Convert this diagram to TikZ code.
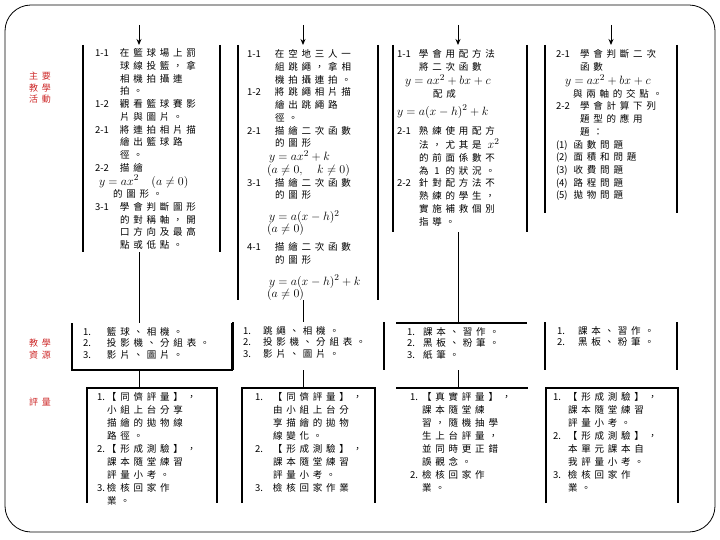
\documentclass[tikz,border=0pt]{standalone}
\usepackage{fontspec}
\usepackage{array}
\newfontfamily\cjk[LetterSpace=40]{Noto Sans CJK TC}
\newfontfamily\numf{Noto Sans CJK TC}
\usetikzlibrary{arrows.meta}
\definecolor{lblred}{RGB}{205,40,40}
\newcommand\blk[2]{\begin{tabular}{@{}>{\numf}p{#1}@{}l@{}}#2\end{tabular}}
\newcommand\fm[2]{\multicolumn{2}{@{}l@{}}{\hspace*{#1}#2}}
\newcommand\mth[1]{{\fontsize{12.5}{12.7}\selectfont$#1$}}
\tikzset{
  frame/.style={inner sep=0pt, outer sep=0pt},
  side/.style={line width=1.1pt, black},
  conn/.style={line width=0.9pt, black},
  txt/.style={anchor=north west, inner sep=0pt, outer sep=0pt, font=\cjk\fontsize{9.5}{12.7}\selectfont},
  rtxt/.style={anchor=north west, inner sep=0pt, outer sep=0pt, font=\cjk\fontsize{9.5}{11.5}\selectfont},
  etxt/.style={anchor=north west, inner sep=0pt, outer sep=0pt, font=\cjk\fontsize{9.5}{13}\selectfont},
  lbl/.style={align=center, inner sep=0pt, text=lblred, font=\cjk\fontsize{9}{11.5}\selectfont}
}
\begin{document}
\begin{tikzpicture}[x=1pt, y=-1pt]
\useasboundingbox (0,0) rectangle (720,540);
\draw[line width=0.8pt, rounded corners=26pt] (5,5) rectangle (715,532);

% labels
\node[lbl] (l1) at (40,88) {主要\\教學\\活動};
\node[lbl] (l2) at (40,349) {教學\\資源};
\node[lbl] (l3) at (40,402) {評量};

% frames
\node[frame, minimum width=137pt, minimum height=207pt] (a1) at (151.5,148.5) {};
\node[frame, minimum width=140pt, minimum height=255pt] (a2) at (308,172.5) {};
\node[frame, minimum width=134pt, minimum height=187pt] (a3) at (460,138.5) {};
\node[frame, minimum width=132pt, minimum height=168pt] (a4) at (611,129) {};
\node[frame, minimum width=160pt, minimum height=47pt] (r1) at (152,346.5) {};
\node[frame, minimum width=151pt, minimum height=48pt] (r2) at (308.5,346) {};
\node[frame, minimum width=131pt, minimum height=47pt] (r3) at (461.5,346.5) {};
\node[frame, minimum width=132pt, minimum height=48pt] (r4) at (611,346) {};
\node[frame, minimum width=130pt, minimum height=115pt] (e1) at (152,445.5) {};
\node[frame, minimum width=133pt, minimum height=115pt] (e2) at (308.5,445.5) {};
\node[frame, minimum width=132pt, minimum height=115pt] (e3) at (462,445.5) {};
\node[frame, minimum width=132pt, minimum height=115pt] (e4) at (612,445.5) {};

% visible sides
\foreach \n in {a1,a2,a3,a4,r2,r4}{
  \draw[side] (\n.north west) -- (\n.south west) (\n.north east) -- (\n.south east);
}
\draw[side] (r1.north west) -- (r1.south west) -- (r1.south east) -- (r1.north east);
\draw[side] (r3.north west) -- (r3.north east);
\foreach \n in {e1,e2,e4}{
  \draw[side] (\n.south west) -- (\n.north west) -- (\n.north east) -- (\n.south east);
}
\draw[side] (e3.north west) -- (e3.north east);

% connectors
\coordinate (t1) at (139,25);
\coordinate (t2) at (303,25);
\coordinate (t3) at (458,25);
\coordinate (t4) at (611,25);
\foreach \t/\a in {t1/a1,t2/a2,t3/a3,t4/a4}{
  \draw[conn, -{Stealth[length=6pt,width=5pt]}] (\t) -- (\t |- \a.north);
}
\foreach \t/\a/\r/\e in {t1/a1/r1/e1,t2/a2/r2/e2,t3/a3/r3/e3}{
  \draw[conn] (\t |- \a.south) -- (\t |- \r.north);
  \draw[conn] (\t |- \r.south) -- (\t |- \e.north);
}

% activity texts
\node[txt] (ta1) at (95,48) {\blk{25pt}{
1-1 & 在籃球場上罰\\
 & 球線投籃，拿\\
 & 相機拍攝連\\
 & 拍。\\
1-2 & 觀看籃球賽影\\
 & 片與圖片。\\
2-1 & 將連拍相片描\\
 & 繪出籃球路\\
 & 徑。\\
2-2 & 描繪\\
\fm{4pt}{\mth{y=ax^2\quad(a\neq0)}}\\
\fm{18pt}{的圖形。}\\
3-1 & 學會判斷圖形\\
 & 的對稱軸，開\\
 & 口方向及最高\\
 & 點或低點。}};

\node[txt] (ta2) at (247,49) {\blk{28pt}{
1-1 & 在空地三人一\\
 & 組跳繩，拿相\\
 & 機拍攝連拍。\\
1-2 & 將跳繩相片描\\
 & 繪出跳繩路\\
 & 徑。\\
2-1 & 描繪二次函數\\
 & 的圖形\\
\fm{22pt}{\mth{y=ax^2+k}}\\
\fm{20pt}{\mth{(a\neq0,\quad k\neq0)}}\\
3-1 & 描繪二次函數\\
 & 的圖形\\[8pt]
\fm{22pt}{\mth{y=a(x-h)^2}}\\[-1pt]
\fm{20pt}{\mth{(a\neq0)}}\\[5pt]
4-1 & 描繪二次函數\\
 & 的圖形\\[8pt]
\fm{22pt}{\mth{y=a(x-h)^2+k}}\\
\fm{20pt}{\mth{(a\neq0)}}}};

\node[txt] (ta3) at (397,49) {\blk{22pt}{
1-1 & 學會用配方法\\
 & 將二次函數\\
\fm{8pt}{\mth{y=ax^2+bx+c}}\\
\fm{36pt}{配成}\\[4pt]
\fm{0pt}{\mth{y=a(x-h)^2+k}}\\[7pt]
2-1 & 熟練使用配方\\
 & 法，尤其是 \mth{x^2}\\
 & 的前面係數不\\
 & 為 {\numf 1} 的狀況。\\
2-2 & 針對配方法不\\
 & 熟練的學生，\\
 & 實施補救個別\\
 & 指導。}};

\node[txt] (ta4) at (556,49) {\blk{24pt}{
2-1 & 學會判斷二次\\
 & 函數\\
\fm{9pt}{\mth{y=ax^2+bx+c}}\\
\fm{17pt}{與兩軸的交點。}\\
2-2 & 學會計算下列\\
 & 題型的應用\\
 & 題：\\
\fm{0pt}{{\numf (1)} 函數問題}\\
\fm{0pt}{{\numf (2)} 面積和問題}\\
\fm{0pt}{{\numf (3)} 收費問題}\\
\fm{0pt}{{\numf (4)} 路程問題}\\
\fm{0pt}{{\numf (5)} 拋物問題}}};

% resource texts
\node[rtxt] (tr1) at (83,327) {\blk{24pt}{
1. & 籃球、相機。\\
2. & 投影機、分組表。\\
3. & 影片、圖片。}};
\node[rtxt] (tr2) at (243,326) {\blk{20pt}{
1. & 跳繩、相機。\\
2. & 投影機、分組表。\\
3. & 影片、圖片。}};
\node[rtxt] (tr3) at (407,327) {\blk{16pt}{
1. & 課本、習作。\\
2. & 黑板、粉筆。\\
3. & 紙筆。}};
\node[rtxt] (tr4) at (557,326) {\blk{21pt}{
1. & 課本、習作。\\
2. & 黑板、粉筆。}};

% evaluation texts
\node[etxt] (te1) at (97,391) {\blk{10pt}{
1. & 【同儕評量】，\\
 & 小組上台分享\\
 & 描繪的拋物線\\
 & 路徑。\\
2. & 【形成測驗】，\\
 & 課本隨堂練習\\
 & 評量小考。\\
3. & 檢核回家作\\
 & 業。}};
\node[etxt] (te2) at (255,391) {\blk{18pt}{
1. & 【同儕評量】，\\
 & 由小組上台分\\
 & 享描繪的拋物\\
 & 線變化。\\
2. & 【形成測驗】，\\
 & 課本隨堂練習\\
 & 評量小考。\\
3. & 檢核回家作業}};
\node[etxt] (te3) at (410,391) {\blk{12pt}{
1. & 【真實評量】，\\
 & 課本隨堂練\\
 & 習，隨機抽學\\
 & 生上台評量，\\
 & 並同時更正錯\\
 & 誤觀念。\\
2. & 檢核回家作\\
 & 業。}};
\node[etxt] (te4) at (553,391) {\blk{15pt}{
1. & 【形成測驗】，\\
 & 課本隨堂練習\\
 & 評量小考。\\
2. & 【形成測驗】，\\
 & 本單元課本自\\
 & 我評量小考。\\
3. & 檢核回家作\\
 & 業。}};
\end{tikzpicture}
\end{document}
